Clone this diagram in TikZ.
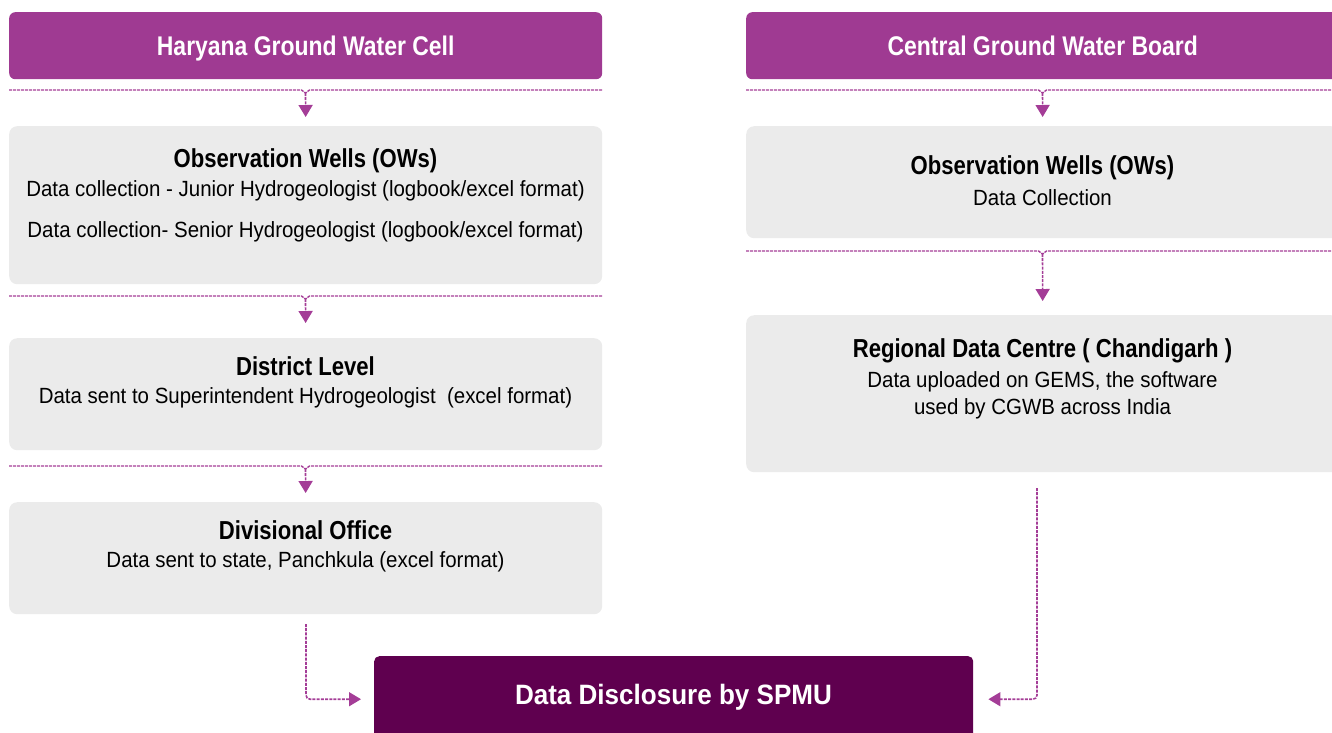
\documentclass[tikz,border=0pt]{standalone}
\usepackage{fontspec}
\setmainfont{Liberation Sans}[FakeStretch=0.93]
\newfontfamily\condfont{Liberation Sans}[FakeStretch=0.85]
\usetikzlibrary{arrows.meta}
\definecolor{hdr}{HTML}{9F3A92}
\definecolor{ln}{HTML}{A43D97}
\definecolor{fin}{HTML}{5F004F}
\definecolor{pale}{HTML}{EBEBEB}
\begin{document}
\begin{tikzpicture}[x=1pt,y=-1pt,
 header/.style={fill=hdr, rounded corners=6pt, minimum width=593pt, minimum height=67pt, anchor=north west, inner sep=0pt, text=white, text height=20pt, text depth=0pt, font=\condfont\bfseries\fontsize{27}{30}\selectfont},
 panel/.style={fill=pale, rounded corners=8pt, minimum width=593pt, anchor=north west, inner sep=0pt},
 ttl/.style={font=\condfont\bfseries\fontsize{26}{30}\selectfont, inner sep=0pt},
 txt/.style={font=\fontsize{22}{26}\selectfont, inner sep=0pt},
 divider/.style={draw=ln, line width=1.4pt, dash pattern=on 3pt off 1pt},
 flow/.style={draw=ln, line width=1.6pt, dash pattern=on 3pt off 1.2pt, -{Triangle[width=14pt,length=12pt]}, rounded corners=4pt},
]
\useasboundingbox (0,0) rectangle (1332,732);

% ---------- left column ----------
\node[header] (lh) at (9,12) {Haryana Ground Water Cell};
\node[panel, minimum height=158pt] (l1) at (9,126) {};
\node[panel, minimum height=112pt] (l2) at (9,338) {};
\node[panel, minimum height=112pt] (l3) at (9,502) {};

\node[ttl] (l1t) at (305.5,161) {Observation Wells (OWs)};
\node[txt] (l1a) at (305.5,191) {Data collection - Junior Hydrogeologist (logbook/excel format)};
\node[txt] (l1b) at (305.5,232) {Data collection- Senior Hydrogeologist (logbook/excel format)};
\node[ttl] (l2t) at (305.5,366) {District Level};
\node[txt] (l2a) at (305.5,398) {Data sent to Superintendent Hydrogeologist\ \ (excel format)};
\node[ttl] (l3t) at (305.5,530) {Divisional Office};
\node[txt] (l3a) at (305.5,562) {Data sent to state, Panchkula (excel format)};

% dividers left
\draw[divider] (9,90) -- (301.5,90) -- (305.5,93) -- (309.5,90) -- (602,90);
\draw[divider] (9,296) -- (301.5,296) -- (305.5,299) -- (309.5,296) -- (602,296);
\draw[divider] (9,466) -- (301.5,466) -- (305.5,469) -- (309.5,466) -- (602,466);
\coordinate (ld1) at (305.5,93);
\coordinate (ld2) at (305.5,299);
\coordinate (ld3) at (305.5,469);
\draw[flow, shorten >=9pt] (ld1) -- (l1.north);
\draw[flow, shorten >=15pt] (ld2) -- (l2.north);
\draw[flow, shorten >=9pt] (ld3) -- (l3.north);

% ---------- right column ----------
\node[header] (rh) at (746,12) {Central Ground Water Board};
\node[panel, minimum height=112pt] (r1) at (746,126) {};
\node[panel, minimum height=157pt] (r2) at (746,315) {};

\node[ttl] (r1t) at (1042.5,168) {Observation Wells (OWs)};
\node[txt] (r1a) at (1042.5,198) {Data Collection};
\node[ttl] (r2t) at (1042.5,351) {Regional Data Centre ( Chandigarh )};
\node[txt] (r2a) at (1042.5,382) {Data uploaded on GEMS, the software};
\node[txt] (r2b) at (1042.5,409) {used by CGWB across India};

\draw[divider] (746,90) -- (1038.5,90) -- (1042.5,93) -- (1046.5,90) -- (1339,90);
\draw[divider] (746,251) -- (1038.5,251) -- (1042.5,254) -- (1046.5,251) -- (1339,251);
\coordinate (rd1) at (1042.5,93);
\coordinate (rd2) at (1042.5,254);
\draw[flow, shorten >=9pt] (rd1) -- (r1.north);
\draw[flow, shorten >=14pt] (rd2) -- (r2.north);

% ---------- final ----------
\node[fill=fin, rounded corners=5pt, minimum width=599pt, minimum height=86pt, anchor=north west, inner sep=0pt] (fin) at (374,656) {};
\node[inner sep=0pt, text=white, text height=20pt, text depth=0pt, font=\bfseries\fontsize{28}{31}\selectfont] (fint) at (673.5,694) {Data Disclosure by SPMU};

\coordinate (l3out) at (306,624);
\coordinate (r2out) at (1037,488);
\draw[flow, shorten >=13pt] (l3out) |- (fin.west);
\draw[flow, shorten >=15pt] (r2out) |- (fin.east);
\end{tikzpicture}
\end{document}
